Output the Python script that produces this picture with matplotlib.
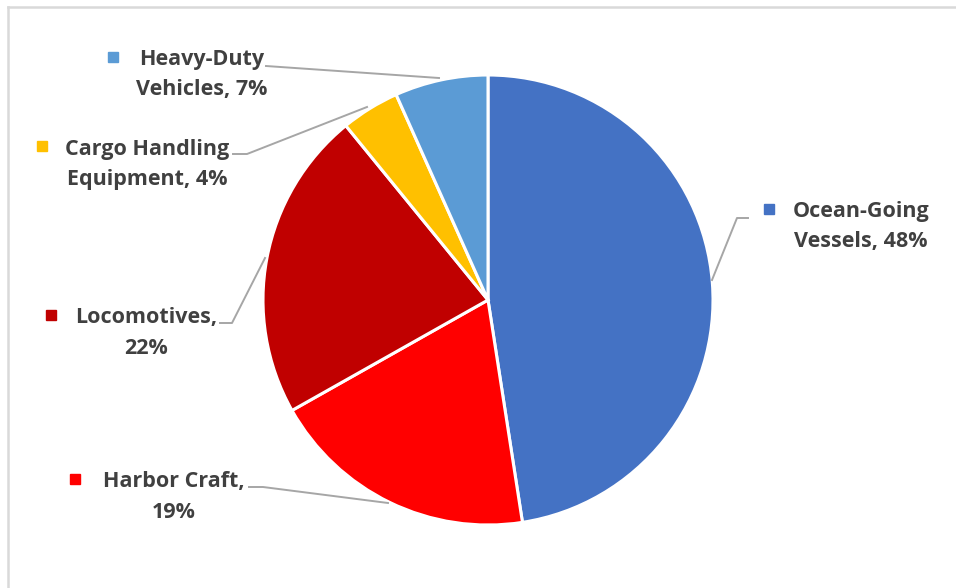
import matplotlib.pyplot as plt
from matplotlib.lines import Line2D

# slices, clockwise from 12 o'clock (percent of total)
names = ["Ocean-Going Vessels", "Harbor Craft", "Locomotives",
         "Cargo Handling Equipment", "Heavy-Duty Vehicles"]
shares = [47.6, 19.3, 22.3, 4.2, 6.7]
colors = ["#4472C4", "#FF0000", "#C00000", "#FFC000", "#5B9BD5"]
# how each label is broken into two lines
first_lines = ["Ocean-Going", "Harbor Craft,", "Locomotives,", "Cargo Handling", "Heavy-Duty"]
second_lines = ["Vessels, {}%", "{}%", "{}%", "Equipment, {}%", "Vehicles, {}%"]

W, H = 956, 588
fig = plt.figure(figsize=(W / 100, H / 100), dpi=100)
ax = fig.add_axes([0, 0, 1, 1])


def py(y):
    # pixel row -> data y
    return H - y


ax.pie(shares, colors=colors, startangle=90, counterclock=False,
       center=(488, py(300)), radius=225, frame=True,
       wedgeprops=dict(edgecolor="white", linewidth=2.2))
ax.set_xlim(0, W)
ax.set_ylim(0, H)
ax.set_aspect("equal")
ax.axis("off")

# label layout (pixel positions): text centre, marker, leader line
layout = [
    dict(tx=861, ty=212, mx=769, line=[(748, 218), (737, 218), (712, 280)]),
    dict(tx=174, ty=482, mx=75, line=[(249, 487), (263, 487), (388, 503)]),
    dict(tx=146, ty=318, mx=51, line=[(220, 323), (232, 323), (265, 258)]),
    dict(tx=147, ty=149, mx=42, line=[(233, 154), (247, 154), (367, 107)]),
    dict(tx=202, ty=60, mx=113, line=[(266, 66), (439, 78)]),
]

txt_color = "#404040"
lead_color = "#A6A6A6"
for l1, l2, s, c, lay in zip(first_lines, second_lines, shares, colors, layout):
    ax.text(lay["tx"], py(lay["ty"]), l1, ha="center", va="center",
            fontsize=15.5, fontweight="bold", color=txt_color, family="Open Sans")
    ax.text(lay["tx"], py(lay["ty"] + 30), l2.format(round(s)), ha="center", va="center",
            fontsize=15.5, fontweight="bold", color=txt_color, family="Open Sans")
    ax.plot([lay["mx"]], [py(lay["ty"] - 3)], marker="s", markersize=6.5,
            color=c, linestyle="none")
    xs = [p[0] for p in lay["line"]]
    ys = [py(p[1]) for p in lay["line"]]
    ax.plot(xs, ys, color=lead_color, linewidth=1.4)

# chart frame (only left and top edges visible)
fig.add_artist(Line2D([8 / W, 8 / W], [0, 1 - 7 / H], color="#D9D9D9", linewidth=1.8))
fig.add_artist(Line2D([8 / W, 1], [1 - 7 / H, 1 - 7 / H], color="#D9D9D9", linewidth=1.8))

fig.savefig("out.png", dpi=100)
